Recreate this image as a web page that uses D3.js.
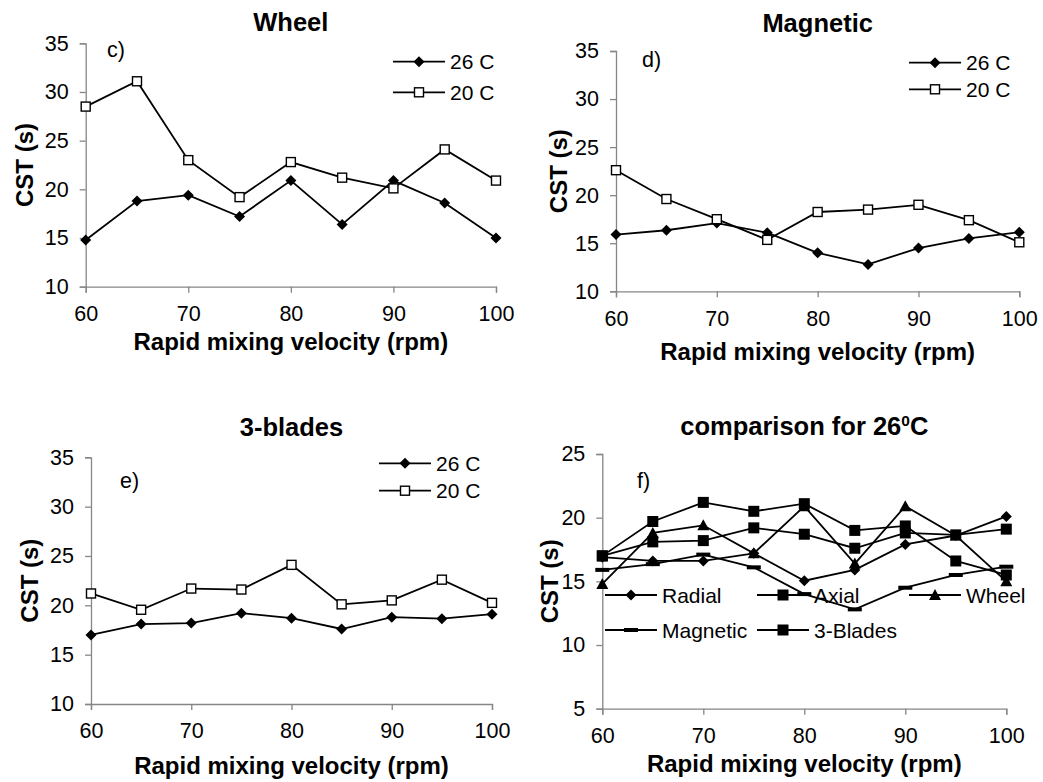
<!DOCTYPE html>
<html>
<head>
<meta charset="utf-8">
<script src="https://cdn.jsdelivr.net/npm/d3@7"></script>
<style>
  html, body { margin: 0; padding: 0; background: #fff; }
  svg { display: block; font-family: "Liberation Sans", Arial, sans-serif; }
</style>
</head>
<body>
<svg id="chart" width="1043" height="782"></svg>
<script>
// Rapid mixing velocity (rpm) shared by every panel
const rpm = [60, 65, 70, 75, 80, 85, 90, 95, 100];
const xTicks = [60, 70, 80, 90, 100];

// CST (s) per mixer and temperature
const wheel26 = [14.8, 18.8, 19.4, 17.2, 20.9, 16.4, 20.9, 18.6, 15.0];
const wheel20 = [28.5, 31.1, 23.0, 19.2, 22.8, 21.2, 20.1, 24.1, 20.9];
const magnetic26 = [15.9, 16.35, 17.1, 16.1, 14.0, 12.8, 14.5, 15.5, 16.15];
const magnetic20 = [22.6, 19.6, 17.5, 15.35, 18.25, 18.5, 19.0, 17.4, 15.1];
const blades26 = [17.0, 18.1, 18.2, 19.2, 18.7, 17.6, 18.8, 18.65, 19.1];
const blades20 = [21.2, 19.55, 21.7, 21.6, 24.1, 20.1, 20.5, 22.6, 20.25];
const radial26 = [16.9, 16.6, 16.6, 17.2, 15.05, 15.9, 17.9, 18.6, 20.1];
const axial26 = [17.0, 19.7, 21.2, 20.5, 21.1, 19.0, 19.35, 16.6, 15.5];

const yTicksTemp = [10, 15, 20, 25, 30, 35];
const yTicksCompare = [5, 10, 15, 20, 25];

const svg = d3.select("#chart");
const AXIS = "#868686";
const TICK_FONT = 21.5;
const LABEL_FONT = 24;
const TITLE_FONT = 25.5;
const LEGEND_FONT = 21;

// marker painters, centred on (0,0)
const markers = {
  diamond: g => g.append("path").attr("d", "M0,-5.5L5.5,0L0,5.5L-5.5,0Z").attr("fill", "#000"),
  openSquare: g => g.append("rect").attr("x", -4.5).attr("y", -4.5).attr("width", 9).attr("height", 9)
    .attr("fill", "#fff").attr("stroke", "#000").attr("stroke-width", 1.4),
  square: g => g.append("rect").attr("x", -5.5).attr("y", -5.5).attr("width", 11).attr("height", 11).attr("fill", "#000"),
  triangle: g => g.append("path").attr("d", "M0,-6L6,5L-6,5Z").attr("fill", "#000"),
  dash: g => g.append("rect").attr("x", -7).attr("y", -2).attr("width", 14).attr("height", 4).attr("fill", "#000")
};

function panel(cfg) {
  const x = d3.scaleLinear().domain([60, 100]).range([cfg.x0, cfg.x1]);
  const y = d3.scaleLinear().domain(cfg.yDomain).range([cfg.yBottom, cfg.yTop]);
  const g = svg.append("g");

  // axes
  const xAxis = g.append("g").attr("transform", `translate(0,${cfg.yBottom})`)
    .call(d3.axisBottom(x).tickValues(xTicks).tickSize(6).tickPadding(9).tickFormat(d3.format("d")));
  const yAxis = g.append("g").attr("transform", `translate(${cfg.x0},0)`)
    .call(d3.axisLeft(y).tickValues(cfg.yTicks).tickSize(6).tickPadding(11).tickFormat(d3.format("d")));
  [xAxis, yAxis].forEach(a => {
    a.select(".domain").attr("stroke", AXIS).attr("stroke-width", 1.3);
    a.selectAll(".tick line").attr("stroke", AXIS).attr("stroke-width", 1.3);
    a.selectAll(".tick text").attr("fill", "#000").attr("font-size", TICK_FONT)
      .attr("font-family", "'Liberation Sans', Arial, sans-serif");
  });
  xAxis.selectAll(".tick text").attr("dy", "0.9em");

  // series
  const line = d3.line().x((d, i) => x(rpm[i])).y(d => y(d));
  cfg.series.forEach(s => {
    g.append("path").datum(s.values).attr("d", line)
      .attr("fill", "none").attr("stroke", "#000").attr("stroke-width", 1.8);
  });
  cfg.series.forEach(s => {
    s.values.forEach((v, i) => {
      const m = g.append("g").attr("transform", `translate(${x(rpm[i])},${y(v)})`);
      markers[s.marker](m);
    });
  });

  // titles
  const title = g.append("text").attr("x", (cfg.x0 + cfg.x1) / 2).attr("y", cfg.titleY)
    .attr("text-anchor", "middle").attr("font-weight", "bold").attr("font-size", TITLE_FONT);
  if (cfg.titleSup) {
    title.append("tspan").text(cfg.title);
    title.append("tspan").text(cfg.titleSup).attr("font-size", 15.5).attr("dy", -9);
    title.append("tspan").text(cfg.titleTail).attr("dy", 9);
  } else {
    title.text(cfg.title);
  }
  g.append("text").attr("transform", `translate(${cfg.yLabelX},${(cfg.yTop + cfg.yBottom) / 2}) rotate(-90)`)
    .attr("text-anchor", "middle").attr("font-weight", "bold").attr("font-size", LABEL_FONT).text("CST (s)");
  g.append("text").attr("x", (cfg.x0 + cfg.x1) / 2).attr("y", cfg.xLabelY)
    .attr("text-anchor", "middle").attr("font-weight", "bold").attr("font-size", LABEL_FONT)
    .text("Rapid mixing velocity (rpm)");
  g.append("text").attr("x", cfg.tagX).attr("y", cfg.tagY).attr("font-size", TICK_FONT).text(cfg.tag);

  // legend
  cfg.legend.forEach(l => {
    g.append("line").attr("x1", l.x).attr("x2", l.x + 52).attr("y1", l.y).attr("y2", l.y)
      .attr("stroke", "#000").attr("stroke-width", 1.8);
    const m = g.append("g").attr("transform", `translate(${l.x + 26},${l.y})`);
    markers[l.marker](m);
    g.append("text").attr("x", l.x + 57).attr("y", l.y).attr("dy", "0.36em")
      .attr("font-size", LEGEND_FONT).text(l.label);
  });
}

// c) Wheel
panel({
  x0: 85.7, x1: 496, yTop: 43.3, yBottom: 286.7, yDomain: [10, 35], yTicks: yTicksTemp,
  title: "Wheel", titleY: 31, yLabelX: 33, xLabelY: 350, tag: "c)", tagX: 107, tagY: 57,
  series: [{ values: wheel26, marker: "diamond" }, { values: wheel20, marker: "openSquare" }],
  legend: [{ x: 393, y: 61.7, marker: "diamond", label: "26 C" },
           { x: 393, y: 92.3, marker: "openSquare", label: "20 C" }]
});

// d) Magnetic
panel({
  x0: 616, x1: 1019.3, yTop: 51, yBottom: 291.3, yDomain: [10, 35], yTicks: yTicksTemp,
  title: "Magnetic", titleY: 32, yLabelX: 567, xLabelY: 360, tag: "d)", tagX: 642, tagY: 67,
  series: [{ values: magnetic26, marker: "diamond" }, { values: magnetic20, marker: "openSquare" }],
  legend: [{ x: 909, y: 62.7, marker: "diamond", label: "26 C" },
           { x: 909, y: 89.3, marker: "openSquare", label: "20 C" }]
});

// e) 3-blades
panel({
  x0: 91, x1: 492, yTop: 457.3, yBottom: 704, yDomain: [10, 35], yTicks: yTicksTemp,
  title: "3-blades", titleY: 436, yLabelX: 38, xLabelY: 774, tag: "e)", tagX: 120, tagY: 488,
  series: [{ values: blades26, marker: "diamond" }, { values: blades20, marker: "openSquare" }],
  legend: [{ x: 379, y: 463.3, marker: "diamond", label: "26 C" },
           { x: 379, y: 490.7, marker: "openSquare", label: "20 C" }]
});

// f) comparison of the mixers at 26 C
panel({
  x0: 602.3, x1: 1006.3, yTop: 454, yBottom: 708.7, yDomain: [5, 25], yTicks: yTicksCompare,
  title: "comparison for 26", titleSup: "0", titleTail: "C", titleY: 435,
  yLabelX: 558, xLabelY: 772, tag: "f)", tagX: 637, tagY: 488,
  series: [
    { values: radial26, marker: "diamond" },
    { values: axial26, marker: "square" },
    { values: wheel26, marker: "triangle" },
    { values: magnetic26, marker: "dash" },
    { values: blades26, marker: "square" }
  ],
  legend: [
    { x: 605, y: 595, marker: "diamond", label: "Radial" },
    { x: 757, y: 595, marker: "square", label: "Axial" },
    { x: 909, y: 595, marker: "triangle", label: "Wheel" },
    { x: 605, y: 630, marker: "dash", label: "Magnetic" },
    { x: 757, y: 630, marker: "square", label: "3-Blades" }
  ]
});
</script>
</body>
</html>
